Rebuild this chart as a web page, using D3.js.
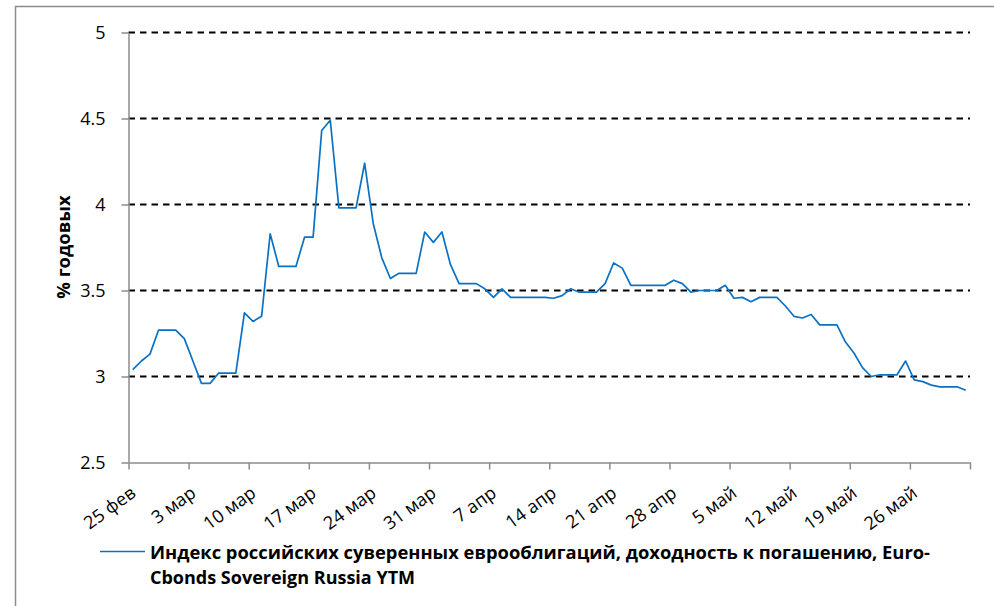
<!DOCTYPE html>
<html>
<head>
<meta charset="utf-8">
<script src="https://cdn.jsdelivr.net/npm/d3@7"></script>
<style>
  body { margin: 0; background: #fff; }
  svg { display: block; font-family: "Open Sans", sans-serif; }
</style>
</head>
<body>
<svg width="994" height="606"></svg>
<script>
// Rendimento indice eurobond sovrani russi, un valore al giorno dal 25 feb

let width = 994;
let height = 606;

// primo giorno della serie, i giorni successivi sono consecutivi
const startDay = new Date(2020, 1, 25);
const endDay = new Date(2020, 5, 2);

// valori (% annuo)
const ytm = [
  3.04, 3.09, 3.13, 3.27, 3.27, 3.27, 3.22, 3.09, 2.96, 2.96,
  3.02, 3.02, 3.02, 3.37, 3.32, 3.35, 3.83, 3.64, 3.64, 3.64,
  3.81, 3.81, 4.43, 4.49, 3.98, 3.98, 3.98, 4.24, 3.89, 3.69,
  3.57, 3.60, 3.60, 3.60, 3.84, 3.78, 3.84, 3.65, 3.54, 3.54,
  3.54, 3.51, 3.46, 3.51, 3.46, 3.46, 3.46, 3.46, 3.46, 3.455,
  3.47, 3.51, 3.49, 3.49, 3.49, 3.54, 3.66, 3.63, 3.53, 3.53,
  3.53, 3.53, 3.53, 3.56, 3.54, 3.49, 3.50, 3.50, 3.50, 3.53,
  3.455, 3.46, 3.435, 3.46, 3.46, 3.46, 3.41, 3.35, 3.34, 3.36,
  3.30, 3.30, 3.30, 3.20, 3.135, 3.05, 3.00, 3.01, 3.01, 3.01,
  3.09, 2.98, 2.97, 2.95, 2.94, 2.94, 2.94, 2.92
];

// etichette delle tacche, una ogni 7 giorni (l'ultima è vuota)
const xTickLabels = ["25 фев", "3 мар", "10 мар", "17 мар", "24 мар", "31 мар", "7 апр",
  "14 апр", "21 апр", "28 апр", "5 май", "12 май", "19 май", "26 май", ""];
const yTicks = [2.5, 3, 3.5, 4, 4.5, 5];
const gridValues = [3, 3.5, 4, 4.5, 5];

const yTitle = "% годовых";
const legendLines = ["Индекс российских  суверенных еврооблигаций,  доходность к погашению, Euro-",
  "Cbonds Sovereign Russia YTM"];

const data = ytm.map((v, i) => ({ date: d3.timeDay.offset(startDay, i), value: v }));

const x = d3.scaleTime()
  .domain([startDay, endDay])
  .range([128.5, 970]);

const y = d3.scaleLinear()
  .domain([2.5, 5])
  .range([462.5, 32.5]);

const svg = d3.select("svg")
  .attr("viewBox", [0, 0, width, height]);

// cornice grigia come nel file excel
svg.append("rect")
  .attr("x", 15.5)
  .attr("y", 6.5)
  .attr("width", 1100)
  .attr("height", 700)
  .attr("fill", "none")
  .attr("stroke", "#8c8c8c")
  .attr("stroke-width", 1.5);

// linee della griglia tratteggiate
svg.append("g")
  .selectAll("line")
  .data(gridValues)
  .join("line")
  .attr("x1", x.range()[0])
  .attr("x2", x.range()[1])
  .attr("y1", d => y(d))
  .attr("y2", d => y(d))
  .attr("stroke", "#000")
  .attr("stroke-width", 1.8)
  .attr("stroke-dasharray", "6.5,5");

// asse y (tolgo il font di default che d3 mette sugli assi)
const yAxis = svg.append("g")
  .attr("transform", `translate(${x.range()[0]},0)`)
  .call(d3.axisLeft(y).tickValues(yTicks).tickSize(7).tickSizeOuter(0).tickPadding(16).tickFormat(d => d))
  .attr("font-family", null)
  .attr("font-size", null);

yAxis.select(".domain").attr("stroke", "#8c8c8c").attr("stroke-width", 1.5);
yAxis.selectAll(".tick line").attr("stroke", "#8c8c8c").attr("stroke-width", 1.5);
yAxis.selectAll(".tick text")
  .attr("fill", "#000")
  .style("font-size", "18px");

// asse x, tacche ogni settimana
const tickDates = d3.timeDay.range(startDay, d3.timeDay.offset(endDay, 1), 7);

const xAxis = svg.append("g")
  .attr("transform", `translate(0,${y.range()[0]})`)
  .call(d3.axisBottom(x).tickValues(tickDates).tickSize(7).tickSizeOuter(0)
    .tickFormat((d, i) => xTickLabels[i]))
  .attr("font-family", null)
  .attr("font-size", null);

xAxis.select(".domain").attr("stroke", "#8c8c8c").attr("stroke-width", 1.5);
xAxis.selectAll(".tick line").attr("stroke", "#8c8c8c").attr("stroke-width", 1.5);
xAxis.selectAll(".tick text")
  .attr("fill", "#000")
  .style("font-size", "18px")
  .attr("text-anchor", "end")
  .attr("y", 0)
  .attr("dy", 0)
  .attr("transform", "translate(8,33) rotate(-36)");

// titolo asse y
svg.append("text")
  .attr("transform", "translate(70,247) rotate(-90)")
  .attr("text-anchor", "middle")
  .style("font-size", "18.5px")
  .style("font-weight", "bold")
  .text(yTitle);

// la linea: ogni punto sta a metà della sua giornata
const line = d3.line()
  .x(d => x(d3.timeHour.offset(d.date, 12)))
  .y(d => y(d.value));

svg.append("path")
  .datum(data)
  .attr("fill", "none")
  .attr("stroke", "#0a72c4")
  .attr("stroke-width", 1.7)
  .attr("stroke-linejoin", "round")
  .attr("d", line);

// legenda
svg.append("line")
  .attr("x1", 100)
  .attr("x2", 145)
  .attr("y1", 551.5)
  .attr("y2", 551.5)
  .attr("stroke", "#0a72c4")
  .attr("stroke-width", 1.6);

svg.append("g")
  .selectAll("text")
  .data(legendLines)
  .join("text")
  .attr("x", 150)
  .attr("y", (d, i) => 559 + i * 25)
  .attr("textLength", (d, i) => i === 0 ? 780 : null)
  .attr("lengthAdjust", "spacingAndGlyphs")
  .style("font-size", "18px")
  .style("font-weight", "bold")
  .text(d => d);
</script>
</body>
</html>
